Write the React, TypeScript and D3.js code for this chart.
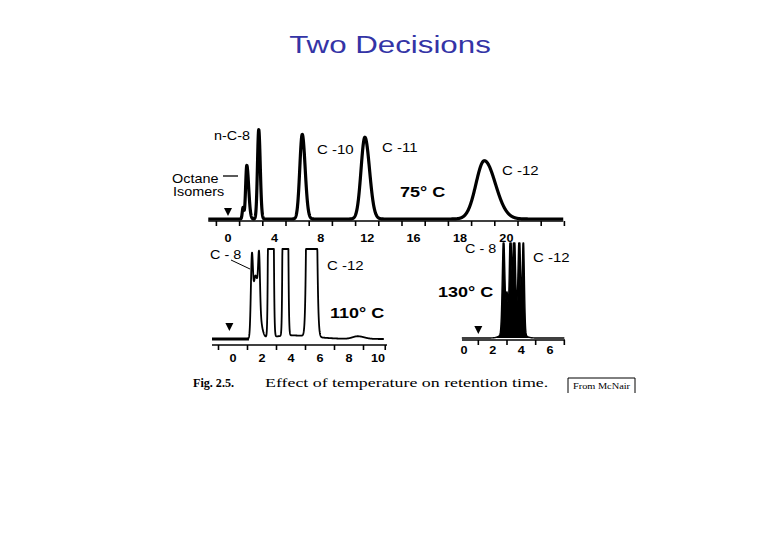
import React from "react";
import * as d3 from "d3";

// ---------- data ----------
const titleText = "Two Decisions";

// Top chromatogram (75 °C)
const topTickValues = [0, 4, 8, 12, 16, 20, 24];
const topTickLabels = ["0", "4", "8", "12", "16", "18", "20"];
const topMinorTicks = [-1, 1, 3, 5, 7, 9, 11, 13, 15, 17, 19, 21, 23, 25, 27, 29];
const topPeakTimes = [1.3, 1.62, 2.65, 6.4, 11.8, 22.1];
const topPeakHeights = [12, 57, 95, 90, 87, 62];
const topPeakSigmaL = [0.07, 0.1, 0.11, 0.21, 0.33, 0.72];
const topPeakSigmaR = [0.07, 0.16, 0.13, 0.25, 0.4, 0.95];

// Bottom-left chromatogram (110 °C)
const midTickValues = [0, 2, 4, 6, 8, 10];
const midTickLabels = ["0", "2", "4", "6", "8", "10"];
const midMinorTicks = [-1, 1, 3, 5, 7, 9, 10.5];
const midPeakTimes = [1.3, 1.55, 1.8, 2.6, 3.6, 5.4, 4.0, 8.6];
const midPeakHeights = [77, 70, 54, 2000, 2000, 2000, 4, 3];
const midPeakSigmaL = [0.07, 0.15, 0.06, 0.08, 0.08, 0.15, 1.2, 0.35];
const midPeakSigmaR = [0.07, 0.25, 0.06, 0.09, 0.09, 0.17, 1.6, 0.45];

// Bottom-right chromatogram (130 °C)
const lowTickValues = [0, 2, 4, 6];
const lowTickLabels = ["0", "2", "4", "6"];
const lowMinorTicks = [1, 3, 5, 7];
const lowPeakTimes = [2.76, 3.0, 3.24, 3.5, 3.86, 4.14, 3.4];
const lowPeakHeights = [100, 33, 100, 100, 100, 100, 20];
const lowPeakSigma = [0.085, 0.06, 0.07, 0.085, 0.085, 0.07, 0.45];

const sans = "'Liberation Sans', Arial, Helvetica, sans-serif";
const serif = "'Liberation Serif', 'Times New Roman', serif";

type Pt = [number, number];

function chrom(
  times: number[],
  heights: number[],
  sl: number[],
  sr: number[],
  t0: number,
  t1: number,
  clip: number
): Pt[] {
  const pts: Pt[] = [];
  const step = 0.01;
  for (let t = t0; t <= t1 + 1e-9; t += step) {
    let s = 0;
    for (let i = 0; i < times.length; i++) {
      const d = t - times[i];
      const sg = d < 0 ? sl[i] : sr[i];
      s += heights[i] * Math.exp(-(d * d) / (2 * sg * sg));
    }
    pts.push([t, Math.min(clip, s)]);
  }
  return pts;
}

function Txt(props: {
  x: number;
  y: number;
  size: number;
  weight?: string;
  family?: string;
  sx?: number;
  anchor?: string;
  fill?: string;
  children: React.ReactNode;
}) {
  const { x, y, size, weight = "normal", family = sans, sx = 1.3, anchor = "start", fill = "#000" } = props;
  return (
    <text
      transform={`translate(${x},${y}) scale(${sx},1)`}
      fontSize={size}
      fontWeight={weight}
      fontFamily={family}
      textAnchor={anchor}
      fill={fill}
    >
      {props.children}
    </text>
  );
}

function Arrow({ x, y }: { x: number; y: number }) {
  return <path d={`M${x - 4},${y - 8} L${x + 4},${y - 8} L${x},${y} Z`} fill="#000" />;
}

export default function App() {
  // ---- top panel ----
  const xTop = d3.scaleLinear().domain([0, 24]).range([228, 506.4]);
  const yTop = d3.scaleLinear().domain([0, 100]).range([219, 125]);
  const topPts = chrom(topPeakTimes, topPeakHeights, topPeakSigmaL, topPeakSigmaR, -1.7, 28.9, 200);
  const topLine = d3
    .line<Pt>()
    .x((d) => xTop(d[0]))
    .y((d) => yTop(d[1]))(topPts) as string;

  // ---- middle (bottom-left) panel ----
  const xMid = d3.scaleLinear().domain([0, 10]).range([233, 378]);
  const yMid = d3.scaleLinear().domain([0, 100]).range([339, 249]);
  const midPts = chrom(midPeakTimes, midPeakHeights, midPeakSigmaL, midPeakSigmaR, -1.4, 10.4, 100);
  const midLine = d3
    .line<Pt>()
    .x((d) => xMid(d[0]))
    .y((d) => yMid(d[1]))(midPts) as string;

  // ---- low (bottom-right) panel ----
  const xLow = d3.scaleLinear().domain([0, 6]).range([464, 550]);
  const yLow = d3.scaleLinear().domain([0, 100]).range([338, 243]);
  const lowPts = chrom(lowPeakTimes, lowPeakHeights, lowPeakSigma, lowPeakSigma, -0.15, 7.0, 100);
  const lowArea = d3
    .area<Pt>()
    .x((d) => xLow(d[0]))
    .y0(yLow(0))
    .y1((d) => yLow(d[1]))(lowPts) as string;
  const lowLine = d3
    .line<Pt>()
    .x((d) => xLow(d[0]))
    .y((d) => yLow(d[1]))(lowPts) as string;

  return (
    <svg
      width={780}
      height={540}
      style={{ position: "absolute", left: 0, top: 0, background: "#fff" }}
    >
      <rect x={0} y={0} width={780} height={540} fill="#fff" />
      {/* title */}
      <Txt x={390} y={53} size={23} sx={1.36} anchor="middle" fill="#3434a6">
        {titleText}
      </Txt>

      {/* ===== top panel ===== */}
      <line x1={xTop(-1.7)} x2={xTop(28.9)} y1={221} y2={221} stroke="#000" strokeWidth={1.6} />
      {topMinorTicks.map((t) => (
        <line key={"tt" + t} x1={xTop(t)} x2={xTop(t)} y1={221} y2={226} stroke="#000" strokeWidth={1.6} />
      ))}
      {topTickValues.map((t, i) => (
        <Txt key={"tl" + t} x={xTop(t)} y={242} size={11} weight="bold" sx={1.15} anchor="middle">
          {topTickLabels[i]}
        </Txt>
      ))}
      <path d={topLine} fill="none" stroke="#000" strokeWidth={3.2} strokeLinejoin="round" />
      <Arrow x={xTop(0)} y={216} />
      <Txt x={214} y={140} size={12} sx={1.2}>n-C-8</Txt>
      <Txt x={172} y={183} size={12} sx={1.2}>Octane</Txt>
      <line x1={223} x2={238} y1={176} y2={176} stroke="#000" strokeWidth={1.3} />
      <Txt x={173} y={196} size={12} sx={1.2}>Isomers</Txt>
      <Txt x={317} y={154} size={12} sx={1.25}>C -10</Txt>
      <Txt x={382} y={152} size={12} sx={1.25}>C -11</Txt>
      <Txt x={502} y={175} size={12} sx={1.25}>C -12</Txt>
      <Txt x={400} y={197} size={15} weight="bold" sx={1.2}>75° C</Txt>

      {/* ===== bottom-left panel ===== */}
      <line x1={212} x2={387} y1={345} y2={345} stroke="#000" strokeWidth={1.6} />
      {midMinorTicks.map((t) => (
        <line key={"mt" + t} x1={xMid(t)} x2={xMid(t)} y1={345} y2={350} stroke="#000" strokeWidth={1.6} />
      ))}
      {midTickValues.map((t, i) => (
        <Txt key={"ml" + t} x={xMid(t)} y={362} size={11} weight="bold" sx={1.15} anchor="middle">
          {midTickLabels[i]}
        </Txt>
      ))}
      <path d={midLine} fill="none" stroke="#000" strokeWidth={1.8} strokeLinejoin="round" />
      <line x1={212} x2={xMid(1.1)} y1={339} y2={339} stroke="#000" strokeWidth={3} />
      <Arrow x={xMid(-0.25)} y={331} />
      <Txt x={210} y={259} size={12} sx={1.2}>C - 8</Txt>
      <line x1={231} x2={250} y1={260} y2={269} stroke="#000" strokeWidth={1} />
      <Txt x={327} y={270} size={12} sx={1.25}>C -12</Txt>
      <Txt x={330} y={318} size={15} weight="bold" sx={1.2}>110° C</Txt>

      {/* ===== bottom-right panel ===== */}
      <line x1={462} x2={565} y1={340} y2={340} stroke="#000" strokeWidth={1.6} />
      {lowMinorTicks.map((t) => (
        <line key={"lt" + t} x1={xLow(t)} x2={xLow(t)} y1={340} y2={345} stroke="#000" strokeWidth={1.6} />
      ))}
      {lowTickValues.map((t, i) => (
        <Txt key={"ll" + t} x={xLow(t)} y={354} size={11} weight="bold" sx={1.15} anchor="middle">
          {lowTickLabels[i]}
        </Txt>
      ))}
      <path d={lowArea} fill="#000" stroke="none" />
      <path d={lowLine} fill="none" stroke="#000" strokeWidth={1.4} strokeLinejoin="round" />
      <Arrow x={xLow(1)} y={334} />
      <Txt x={465} y={253} size={12} sx={1.2}>C - 8</Txt>
      <Txt x={533} y={262} size={12} sx={1.25}>C -12</Txt>
      <Txt x={438} y={297} size={15} weight="bold" sx={1.2}>130° C</Txt>

      {/* caption */}
      <Txt x={193} y={387} size={12.5} weight="bold" family={serif} sx={0.97}>Fig. 2.5.</Txt>
      <Txt x={265} y={387} size={12.5} family={serif} sx={1.43}>Effect of temperature on retention time.</Txt>
      <path d="M568,393 L568,378 L635,378 L635,393" fill="none" stroke="#000" strokeWidth={1} />
      <Txt x={601.5} y={389} size={7.5} family={serif} sx={1.38} anchor="middle">From McNair</Txt>
    </svg>
  );
}
